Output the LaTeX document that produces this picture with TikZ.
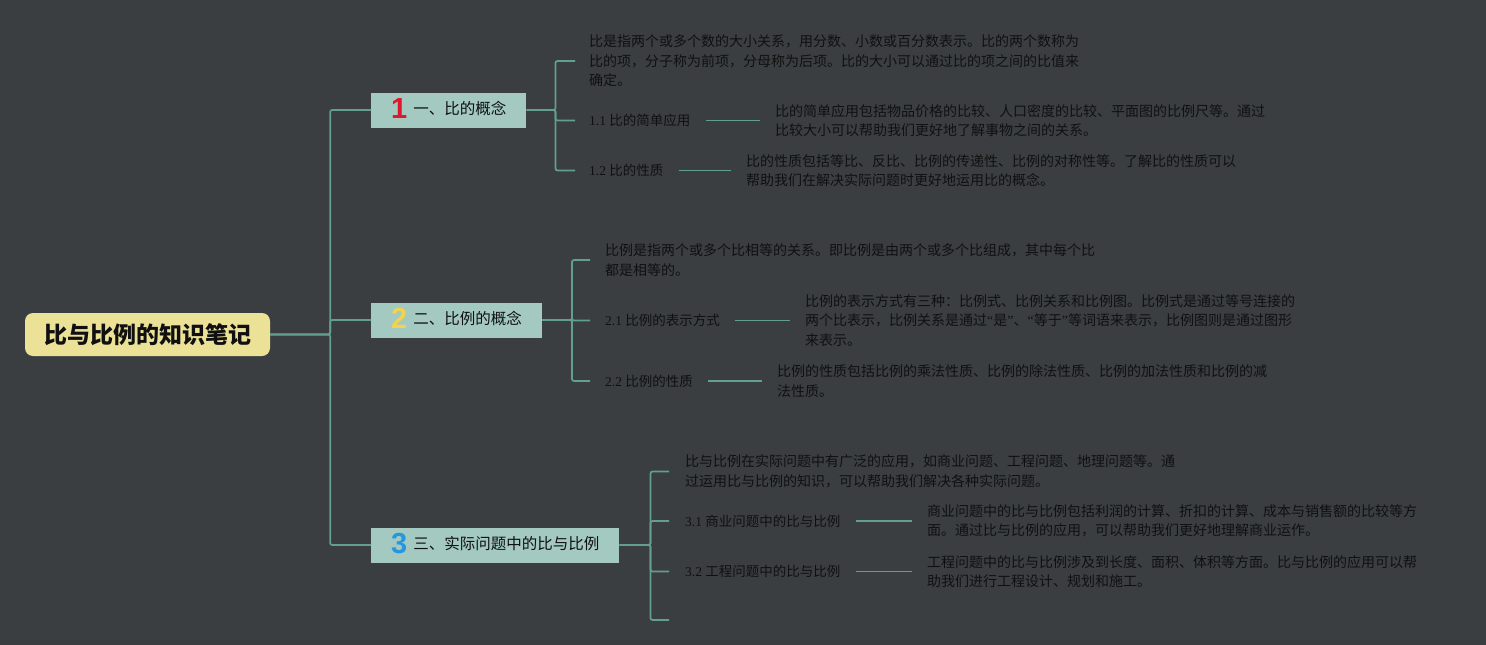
\documentclass[tikz,border=0pt]{standalone}
\usepackage{fontspec}
\usepackage{tikz}
\usetikzlibrary{positioning}
\setmainfont{Liberation Serif}
\newfontfamily\cjk{Noto Sans CJK SC}
\newfontfamily\numfont{Liberation Sans}
\definecolor{bgcol}{RGB}{58,62,65}
\definecolor{rootfill}{RGB}{236,226,151}
\definecolor{topicfill}{RGB}{163,201,193}
\definecolor{linecol}{RGB}{98,160,140}
\definecolor{textcol}{RGB}{16,16,16}
\definecolor{numred}{RGB}{222,24,44}
\definecolor{numyellow}{RGB}{240,212,80}
\definecolor{numblue}{RGB}{38,150,222}
\newcommand{\badge}[2]{\raisebox{-4pt}{\smash{\color{#1}\numfont\bfseries\fontsize{29}{29}\selectfont #2}}\hspace{6pt}}
\newcommand{\openq}{{\rmfamily “}}
\newcommand{\closeq}{{\rmfamily ”}}

\begin{document}
\begin{tikzpicture}[x=1pt, y=-1pt,
root/.style={rectangle, rounded corners=8pt, fill=rootfill, minimum width=245pt, minimum height=43pt, text=textcol, font=\cjk\bfseries\fontsize{23}{26}\selectfont},
topic/.style={rectangle, anchor=west, fill=topicfill, minimum height=35pt, inner xsep=20pt, inner ysep=1pt, text=textcol, font=\cjk\fontsize{15.5}{18}\selectfont},
label/.style={anchor=west, inner sep=0pt, text=textcol, font=\fontsize{13.5}{19}\selectfont},
desc/.style={anchor=west, align=left, inner sep=0pt, text=textcol, font=\cjk\fontsize{14}{19.5}\selectfont},
link/.style={draw=linecol, line width=1.7pt, rounded corners=2pt}
]
\fill[bgcol] (0,0) rectangle (1486,645);
%Nodes
\node[root]      (root)   at (147.5,334.5)    {比与比例的知识笔记};
\node[topic]     (t1)     at (371,110)        {\badge{numred}{1}一、比的概念};
\node[topic]     (t2)     at (371,320)        {\badge{numyellow}{2}二、比例的概念};
\node[topic]     (t3)     at (371,545)        {\badge{numblue}{3}三、实际问题中的比与比例};
% first topic
\node[desc]      (d10)    at (589,61)         {比是指两个或多个数的大小关系，用分数、小数或百分数表示。比的两个数称为\\比的项，分子称为前项，分母称为后项。比的大小可以通过比的项之间的比值来\\确定。};
\node[label]     (l11)    at (589,120.5)      {1.1 {\cjk 比的简单应用}};
\node[desc]      (d11)    at (775,120.5)      {比的简单应用包括物品价格的比较、人口密度的比较、平面图的比例尺等。通过\\比较大小可以帮助我们更好地了解事物之间的关系。};
\node[label]     (l12)    at (589,170.5)      {1.2 {\cjk 比的性质}};
\node[desc]      (d12)    at (746,170.5)      {比的性质包括等比、反比、比例的传递性、比例的对称性等。了解比的性质可以\\帮助我们在解决实际问题时更好地运用比的概念。};
% second topic
\node[desc]      (d20)    at (605,260)        {比例是指两个或多个比相等的关系。即比例是由两个或多个比组成，其中每个比\\都是相等的。};
\node[label]     (l21)    at (605,320.5)      {2.1 {\cjk 比例的表示方式}};
\node[desc]      (d21)    at (805,320.5)      {比例的表示方式有三种：比例式、比例关系和比例图。比例式是通过等号连接的\\两个比表示，比例关系是通过\openq 是\closeq 、\openq 等于\closeq 等词语来表示，比例图则是通过图形\\来表示。};
\node[label]     (l22)    at (605,381)        {2.2 {\cjk 比例的性质}};
\node[desc]      (d22)    at (777,381)        {比例的性质包括比例的乘法性质、比例的除法性质、比例的加法性质和比例的减\\法性质。};
% third topic
\node[desc]      (d30)    at (685,471.5)      {比与比例在实际问题中有广泛的应用，如商业问题、工程问题、地理问题等。通\\过运用比与比例的知识，可以帮助我们解决各种实际问题。};
\node[label]     (l31)    at (685,521)        {3.1 {\cjk 商业问题中的比与比例}};
\node[desc]      (d31)    at (927,521)        {商业问题中的比与比例包括利润的计算、折扣的计算、成本与销售额的比较等方\\面。通过比与比例的应用，可以帮助我们更好地理解商业运作。};
\node[label]     (l32)    at (685,571.5)      {3.2 {\cjk 工程问题中的比与比例}};
\node[desc]      (d32)    at (927,571.5)      {工程问题中的比与比例涉及到长度、面积、体积等方面。比与比例的应用可以帮\\助我们进行工程设计、规划和施工。};
\coordinate      (e33)    at (669,620);
%Lines
\draw[link] (root.east) -- ++(60,0) |- (t1.west);
\draw[link] (root.east) -- ++(60,0) |- (t2.west);
\draw[link] (root.east) -- ++(60,0) |- (t3.west);
\draw[link] (t1.east) -- ++(29,0) |- ([xshift=-14pt]d10.west);
\draw[link] (t1.east) -- ++(29,0) |- ([xshift=-14pt]l11.west);
\draw[link] (t1.east) -- ++(29,0) |- ([xshift=-14pt]l12.west);
\draw[link] (t2.east) -- ++(30,0) |- ([xshift=-15pt]d20.west);
\draw[link] (t2.east) -- ++(30,0) |- ([xshift=-15pt]l21.west);
\draw[link] (t2.east) -- ++(30,0) |- ([xshift=-15pt]l22.west);
\draw[link] (t3.east) -- ++(31,0) |- ([xshift=-16pt]d30.west);
\draw[link] (t3.east) -- ++(31,0) |- ([xshift=-16pt]l31.west);
\draw[link] (t3.east) -- ++(31,0) |- ([xshift=-16pt]l32.west);
\draw[link] (t3.east) -- ++(31,0) |- (e33);
\draw[link] ([xshift=15pt]l11.east) -- ([xshift=-15pt]d11.west);
\draw[link] ([xshift=15pt]l12.east) -- ([xshift=-15pt]d12.west);
\draw[link] ([xshift=15pt]l21.east) -- ([xshift=-15pt]d21.west);
\draw[link] ([xshift=15pt]l22.east) -- ([xshift=-15pt]d22.west);
\draw[link] ([xshift=15pt]l31.east) -- ([xshift=-15pt]d31.west);
\draw[link] ([xshift=15pt]l32.east) -- ([xshift=-15pt]d32.west);
\end{tikzpicture}
\end{document}
